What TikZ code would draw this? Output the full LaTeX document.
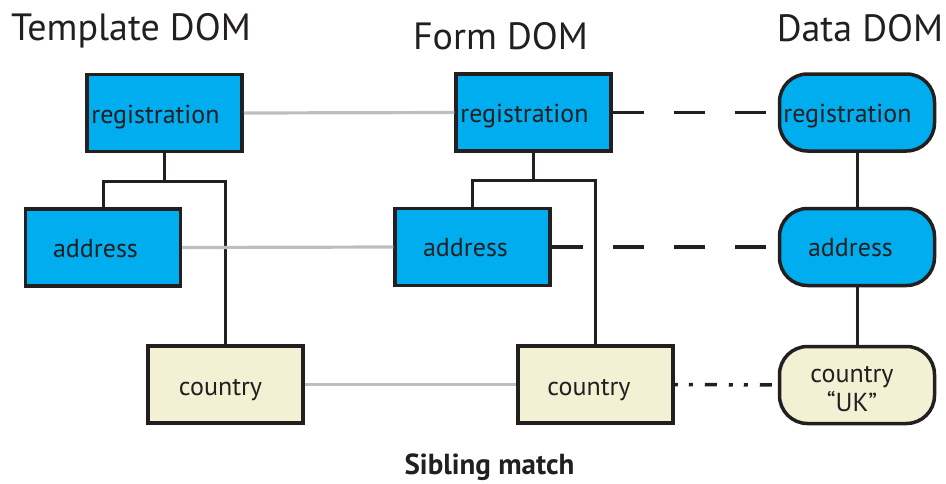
\documentclass[tikz,border=0pt]{standalone}
\usepackage{fontspec}
\setmainfont{PT Sans}
\usetikzlibrary{positioning}

\definecolor{domblue}{HTML}{00AEEF}
\definecolor{domcream}{HTML}{F2F1D4}
\definecolor{domgray}{HTML}{BCBEC0}
\definecolor{domink}{HTML}{231F20}

\tikzset{
	dombox/.style={draw=domink, line width=3.5pt, minimum width=155pt, minimum height=77pt, inner sep=0pt},
	tmplbox/.style={dombox, fill=domblue},
	leafbox/.style={dombox, fill=domcream},
	databox/.style={dombox, fill=domblue, rounded corners=28pt},
	dataleaf/.style={dombox, fill=domcream, rounded corners=28pt},
	boxtext/.style={text=domink, anchor=base, inner sep=0pt, font=\fontsize{26}{29}\selectfont},
	title/.style={text=domink, anchor=base, inner sep=0pt, font=\fontsize{38}{44}\selectfont},
	tree/.style={draw=domink, line width=3pt},
	match/.style={draw=domgray, line width=3.2pt},
	bind/.style={draw=domink, line width=3.5pt, dash pattern=on 31pt off 30pt},
	bindleaf/.style={draw=domink, line width=3.5pt, dash pattern=on 12pt off 12pt on 4pt off 11pt on 4pt off 12pt, dash phase=25pt}
}

\begin{document}
\begin{tikzpicture}[x=1pt, y=-1pt]
	\useasboundingbox (0,0) rectangle (946,483);

	% titles
	\node[title] (ttitle) at (131,40) {Template DOM};
	\node[title] (ftitle) at (500.5,49) {Form DOM};
	\node[title] (dtitle) at (860,41) {Data DOM};
	\node[text=domink, anchor=base, inner sep=0pt, font=\fontsize{29}{34}\selectfont\bfseries] (caption) at (489.5,474) {Sibling match};

	% template DOM
	\node[tmplbox] (treg) at (164.5,113) {};
	\node[tmplbox] (taddr) at (103,247.5) {};
	\node[leafbox] (tctry) at (225.5,384.5) {};

	% form DOM
	\node[tmplbox] (freg) at (533.5,112.5) {};
	\node[tmplbox] (faddr) at (472.5,247) {};
	\node[leafbox] (fctry) at (595.5,384.5) {};

	% data DOM
	\node[databox] (dreg) at (857,112.5) {};
	\node[databox] (daddr) at (857,247) {};
	\node[dataleaf] (dctry) at (857,385) {};

	% box labels
	\node[boxtext] (treg-t) at ([shift={(-9,10)}]treg.center) {registration};
	\node[boxtext] (taddr-t) at ([shift={(-7.5,9.5)}]taddr.center) {address};
	\node[boxtext] (tctry-t) at ([shift={(-5,11)}]tctry.center) {country};
	\node[boxtext] (freg-t) at ([shift={(-9,10)}]freg.center) {registration};
	\node[boxtext] (faddr-t) at ([shift={(-7,9.5)}]faddr.center) {address};
	\node[boxtext] (fctry-t) at ([shift={(-6.5,11)}]fctry.center) {country};
	\node[boxtext] (dreg-t) at ([shift={(-9.5,10)}]dreg.center) {registration};
	\node[boxtext] (daddr-t) at ([shift={(-6.5,9.5)}]daddr.center) {address};
	\node[boxtext, align=center] (dctry-t) at ([shift={(-5,26)}]dctry.center) {country\\“UK”};

	% trees
	\draw[tree] (treg.south) -- ++(0,28) -| (taddr.north);
	\draw[tree] (treg.south) ++(0,28) -| (tctry.north);
	\draw[tree] (freg.south) -- ++(0,28) -| (faddr.north);
	\draw[tree] (freg.south) ++(0,28) -| (fctry.north);
	\draw[tree] (dreg.south) -- (daddr.north);
	\draw[tree] (daddr.south) -- (dctry.north);

	% template to form
	\draw[match] (treg.east) -- (freg.west);
	\draw[match] (taddr.east) -- (faddr.west);
	\draw[match] (tctry.east) -- (fctry.west);

	% form to data
	\draw[bind] (freg.east) -- (dreg.west);
	\draw[bind] (faddr.east) -- (daddr.west);
	\draw[bindleaf] (fctry.east) -- (dctry.west);
\end{tikzpicture}
\end{document}
